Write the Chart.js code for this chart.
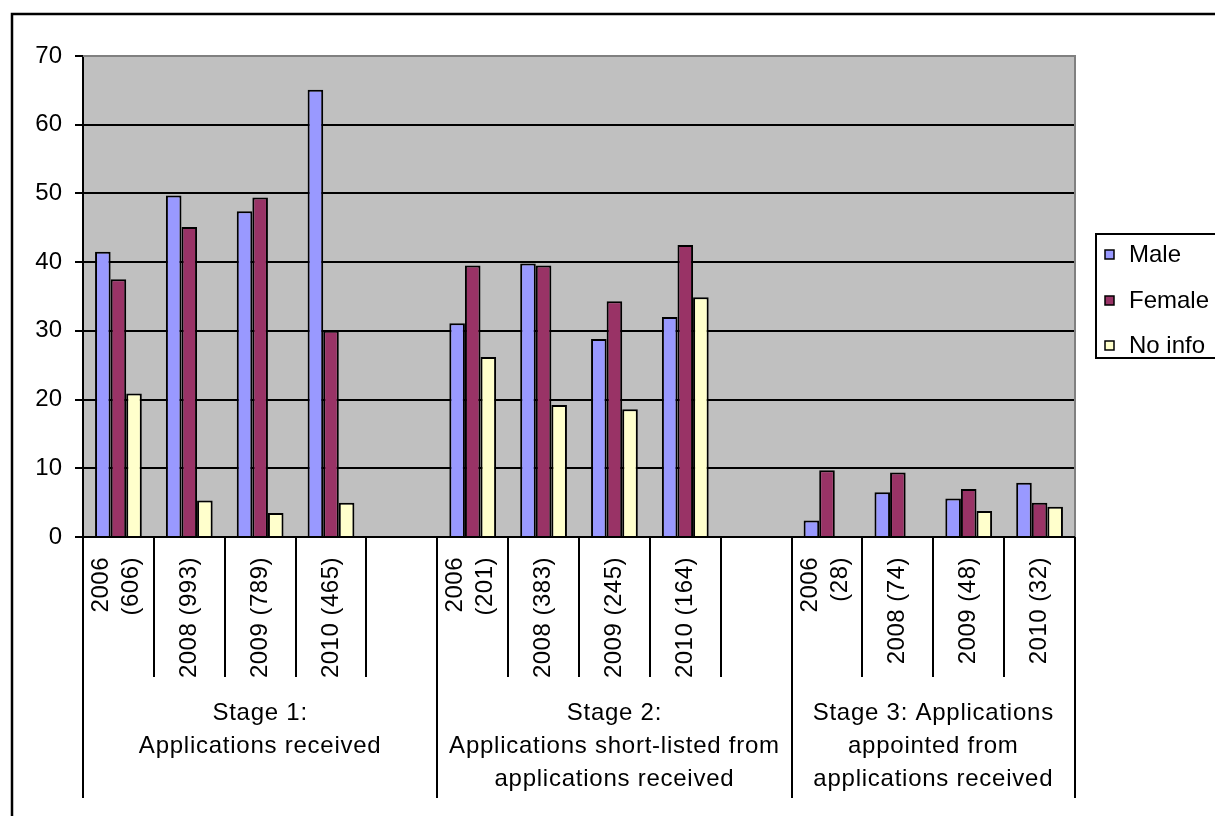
<!DOCTYPE html>
<html>
<head>
<meta charset="utf-8">
<title>Applications by stage and gender</title>
<script src="https://cdn.jsdelivr.net/npm/chart.js@4.4.1/dist/chart.umd.min.js"></script>
<style>
  html, body { margin: 0; padding: 0; background: #fff; overflow: hidden; }
  #wrap { position: relative; width: 1215px; height: 816px; }
</style>
</head>
<body>
<div id="wrap"><canvas id="stageChart"></canvas></div>
<script>
// ==================== DATA ====================
const categories = [
  ['2006', '(606)'], '2008 (993)', '2009 (789)', '2010 (465)', '',
  ['2006', '(201)'], '2008 (383)', '2009 (245)', '2010 (164)', '',
  ['2006', '(28)'], '2008 (74)', '2009 (48)', '2010 (32)'
];
const male   = [41.5, 49.7, 47.4, 65.1, null, 31.1, 39.8, 28.8, 32.0, null, 2.4, 6.5, 5.6, 7.9];
const female = [37.5, 45.1, 49.4, 30.0, null, 39.5, 39.5, 34.3, 42.5, null, 9.7, 9.4, 7.0, 5.0];
const noInfo = [20.9, 5.3, 3.5, 5.0, null, 26.2, 19.2, 18.6, 34.9, null, null, null, 3.8, 4.4];

const stageLabels = [
  ['Stage 1:', 'Applications received'],
  ['Stage 2:', 'Applications short-listed from', 'applications received'],
  ['Stage 3: Applications', 'appointed from', 'applications received']
];
const stageStart = [0, 5, 10];
const stageSize  = [5, 5, 4];

const yTicks = [0, 10, 20, 30, 40, 50, 60, 70];

// ==================== STYLE ====================
const FONT = '"Liberation Sans", Arial, sans-serif';
const FONT_SIZE = 24;

// ==================== EXCEL-LIKE DRAWING ====================
const excelLook = {
  id: 'excelLook',
  beforeDraw(chart) {
    const { ctx, chartArea: a } = chart;
    ctx.save();
    ctx.fillStyle = '#ffffff';
    ctx.fillRect(0, 0, chart.width, chart.height);
    ctx.fillStyle = '#C0C0C0';
    ctx.fillRect(a.left, a.top, a.right - a.left, a.bottom - a.top);
    ctx.restore();
  },
  afterDraw(chart) {
    const { ctx, chartArea: a } = chart;
    const x = chart.scales.x;
    const step = x.getPixelForValue(1) - x.getPixelForValue(0);
    const edge = i => x.getPixelForValue(i) - step / 2;

    ctx.save();

    // plot area border (gray top / right)
    ctx.strokeStyle = '#808080';
    ctx.lineWidth = 2;
    ctx.beginPath();
    ctx.moveTo(a.left, a.top);
    ctx.lineTo(a.right, a.top);
    ctx.lineTo(a.right, a.bottom);
    ctx.stroke();

    // x axis line
    ctx.strokeStyle = '#000';
    ctx.beginPath();
    ctx.moveTo(a.left - 8, a.bottom);
    ctx.lineTo(a.right, a.bottom);
    ctx.stroke();

    // category separators: long at stage edges, short inside
    const groupEdges = stageStart.concat([stageStart[2] + stageSize[2]]);
    for (let i = 0; i <= categories.length; i++) {
      const px = Math.round(edge(i));
      const long = groupEdges.includes(i);
      ctx.beginPath();
      ctx.moveTo(px, a.bottom);
      ctx.lineTo(px, long ? 798 : 677);
      ctx.stroke();
    }

    // rotated category labels
    ctx.fillStyle = '#000';
    ctx.font = FONT_SIZE + 'px ' + FONT;
    ctx.letterSpacing = '0.5px';
    ctx.textBaseline = 'middle';
    ctx.textAlign = 'right';
    categories.forEach((lab, i) => {
      const lines = Array.isArray(lab) ? lab : [lab];
      const cx = x.getPixelForValue(i);
      lines.forEach((line, j) => {
        const off = lines.length === 1 ? 0 : (j === 0 ? -17 : 13);
        ctx.save();
        ctx.translate(cx + off, a.bottom + 20);
        ctx.rotate(-Math.PI / 2);
        ctx.fillText(line, 0, 0);
        ctx.restore();
      });
    });

    // stage labels
    ctx.letterSpacing = '0.75px';
    ctx.textAlign = 'center';
    ctx.textBaseline = 'alphabetic';
    stageLabels.forEach((lines, g) => {
      const cx = (edge(stageStart[g]) + edge(stageStart[g] + stageSize[g])) / 2;
      lines.forEach((line, j) => {
        ctx.fillText(line, cx, 720 + j * 33);
      });
    });

    // legend box
    ctx.letterSpacing = '0px';
    ctx.fillStyle = '#fff';
    ctx.fillRect(1096, 234, 140, 124);
    ctx.strokeStyle = '#000';
    ctx.lineWidth = 2;
    ctx.strokeRect(1096, 234, 140, 124);
    const rowY = [254, 300, 345];
    ctx.textAlign = 'left';
    ctx.textBaseline = 'middle';
    chart.data.datasets.forEach((ds, i) => {
      ctx.fillStyle = ds.backgroundColor;
      ctx.fillRect(1105, rowY[i] - 4, 9, 9);
      ctx.lineWidth = 1.5;
      ctx.strokeRect(1105, rowY[i] - 4, 9, 9);
      ctx.fillStyle = '#000';
      ctx.fillText(ds.label, 1129, rowY[i] + 1);
    });

    // outer chart frame (left and top visible)
    ctx.lineWidth = 2.5;
    ctx.beginPath();
    ctx.moveTo(12, 830);
    ctx.lineTo(12, 14);
    ctx.lineTo(1230, 14);
    ctx.stroke();

    ctx.restore();
  }
};

// ==================== CHART ====================
const barStyle = { borderColor: '#000', borderWidth: 2, categoryPercentage: 0.66, barPercentage: 1.0 };

new Chart(document.getElementById('stageChart'), {
  type: 'bar',
  data: {
    labels: categories,
    datasets: [
      Object.assign({ label: 'Male', data: male, backgroundColor: '#9999FF' }, barStyle),
      Object.assign({ label: 'Female', data: female, backgroundColor: '#993366' }, barStyle),
      Object.assign({ label: 'No info', data: noInfo, backgroundColor: '#FFFFCC' }, barStyle)
    ]
  },
  options: {
    responsive: true,
    maintainAspectRatio: false,
    animation: false,
    layout: { padding: { top: 56, right: 140, bottom: 0, left: 0 } },
    plugins: {
      legend: { display: false },
      tooltip: { enabled: false }
    },
    scales: {
      x: {
        ticks: { display: false },
        grid: { display: false },
        border: { display: false },
        afterFit: scale => { scale.height = 279; }
      },
      y: {
        min: 0,
        max: 70,
        afterBuildTicks: scale => { scale.ticks = yTicks.map(v => ({ value: v })); },
        afterFit: scale => { scale.width = 83; },
        ticks: {
          color: '#000',
          padding: 13,
          font: { family: FONT, size: FONT_SIZE }
        },
        grid: {
          color: c => (c.tick && c.tick.value === 70 ? '#808080' : '#000'),
          tickColor: '#000',
          lineWidth: 2,
          tickLength: 8
        },
        border: { display: true, color: '#000', width: 2 }
      }
    }
  },
  plugins: [excelLook]
});
</script>
</body>
</html>
